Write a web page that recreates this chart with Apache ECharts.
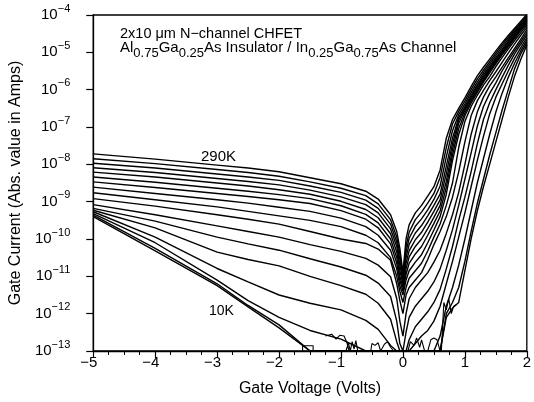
<!DOCTYPE html>
<html><head><meta charset="utf-8">
<script src="https://cdn.jsdelivr.net/npm/echarts@6/dist/echarts.min.js"></script>
<style>html,body{margin:0;padding:0;background:#fff}#c{width:534px;height:402px}</style>
</head><body><div id="c"></div>
<script>
// Gate voltage grid (Volts)
const gateV = [-5,-4,-3,-2.5,-2,-1.5,-1,-0.6,-0.4,-0.2,-0.1,-0.05,0,0.05,0.1,0.2,0.3,0.4,0.5,0.6,0.7,0.8,0.9,1.0,1.1,1.2,1.3,1.4,1.5,1.6,1.7,1.8,1.9,2.0];
// log10 of |gate current| (A), top curve = 290K, bottom = 10K
const c290 = [-7.72,-7.86,-8.02,-8.1,-8.2,-8.36,-8.52,-8.72,-8.93,-9.35,-9.8,-10.25,-10.9,-10.0,-9.62,-9.3,-9.1,-8.85,-8.6,-8.15,-7.3,-6.8,-6.5,-6.22,-5.92,-5.63,-5.4,-5.18,-4.96,-4.75,-4.55,-4.36,-4.17,-3.98];
const c02 = [-7.85,-7.98,-8.14,-8.22,-8.32,-8.47,-8.64,-8.84,-9.06,-9.48,-9.95,-10.4,-11.0,-10.2,-9.82,-9.48,-9.28,-9.04,-8.78,-8.35,-7.55,-6.92,-6.58,-6.3,-6.0,-5.72,-5.48,-5.25,-5.02,-4.8,-4.6,-4.4,-4.21,-4.02];
const c03 = [-7.97,-8.1,-8.26,-8.34,-8.43,-8.58,-8.75,-8.96,-9.18,-9.6,-10.08,-10.55,-11.05,-10.35,-9.98,-9.66,-9.46,-9.22,-8.94,-8.58,-7.8,-7.1,-6.67,-6.38,-6.08,-5.8,-5.55,-5.31,-5.08,-4.86,-4.65,-4.45,-4.25,-4.06];
const c04 = [-8.09,-8.22,-8.38,-8.46,-8.55,-8.69,-8.87,-9.08,-9.3,-9.73,-10.2,-10.7,-11.1,-10.5,-10.15,-9.84,-9.64,-9.38,-9.1,-8.8,-8.05,-7.3,-6.75,-6.45,-6.15,-5.87,-5.61,-5.37,-5.14,-4.92,-4.7,-4.49,-4.29,-4.1];
const c05 = [-8.21,-8.34,-8.5,-8.58,-8.68,-8.8,-8.99,-9.21,-9.43,-9.86,-10.35,-10.85,-11.2,-10.65,-10.32,-10.02,-9.82,-9.55,-9.26,-8.95,-8.25,-7.45,-6.82,-6.5,-6.2,-5.92,-5.66,-5.42,-5.18,-4.96,-4.74,-4.53,-4.33,-4.13];
const c06 = [-8.34,-8.48,-8.64,-8.72,-8.81,-8.92,-9.11,-9.34,-9.57,-10.0,-10.5,-11.0,-11.3,-10.8,-10.48,-10.2,-10.0,-9.72,-9.42,-9.1,-8.45,-7.6,-6.9,-6.55,-6.25,-5.97,-5.71,-5.46,-5.22,-5.0,-4.78,-4.57,-4.36,-4.16];
const c07 = [-8.47,-8.62,-8.78,-8.86,-8.95,-9.05,-9.24,-9.47,-9.7,-10.13,-10.65,-11.1,-11.4,-10.95,-10.65,-10.4,-10.2,-9.9,-9.58,-9.25,-8.62,-7.75,-7.04,-6.62,-6.3,-6.02,-5.76,-5.5,-5.26,-5.03,-4.81,-4.6,-4.39,-4.19];
const c08 = [-8.61,-8.78,-8.95,-9.04,-9.15,-9.26,-9.44,-9.67,-9.9,-10.3,-10.8,-11.25,-11.5,-11.1,-10.85,-10.62,-10.42,-10.1,-9.76,-9.4,-8.8,-7.9,-7.2,-6.7,-6.36,-6.07,-5.8,-5.55,-5.3,-5.07,-4.85,-4.63,-4.42,-4.22];
const c09 = [-8.76,-8.95,-9.14,-9.26,-9.38,-9.5,-9.67,-9.9,-10.1,-10.5,-11.0,-11.4,-11.7,-11.3,-11.05,-10.85,-10.65,-10.32,-9.95,-9.6,-9.1,-8.5,-7.55,-6.85,-6.45,-6.15,-5.88,-5.65,-5.38,-5.14,-4.91,-4.69,-4.48,-4.27];
const c10 = [-8.92,-9.12,-9.35,-9.47,-9.6,-9.8,-10.0,-10.12,-10.27,-10.57,-11.2,-11.65,-12.0,-11.5,-11.3,-11.1,-10.9,-10.55,-10.15,-9.8,-9.4,-8.88,-8.2,-7.4,-6.7,-6.3,-6.02,-5.76,-5.52,-5.27,-5.02,-4.78,-4.55,-4.33];
const c11 = [-9.08,-9.35,-9.65,-9.8,-9.95,-10.15,-10.33,-10.52,-10.7,-11.01,-11.6,-12.2,-12.6,-12.0,-11.6,-11.3,-11.1,-10.9,-10.62,-10.3,-9.85,-9.35,-8.75,-8.0,-7.2,-6.6,-6.2,-5.9,-5.66,-5.4,-5.15,-4.9,-4.65,-4.4];
const c12 = [-9.18,-9.52,-9.95,-10.13,-10.3,-10.53,-10.75,-10.97,-11.18,-11.54,-12.2,-12.8,-13,-12.5,-12.1,-11.8,-11.6,-11.4,-11.15,-10.8,-10.3,-9.75,-9.1,-8.4,-7.7,-6.98,-6.45,-6.1,-5.82,-5.5,-5.23,-4.97,-4.72,-4.47];
const c13 = [-9.23,-9.7,-10.35,-10.55,-10.72,-11.0,-11.25,-11.48,-11.72,-12.15,-12.75,-13,-13,-13,-12.7,-12.35,-12.15,-11.95,-11.7,-11.35,-10.8,-10.2,-9.5,-8.88,-8.2,-7.45,-6.8,-6.35,-6.0,-5.67,-5.35,-5.05,-4.79,-4.54];
const c14 = [-9.27,-9.95,-10.79,-11.15,-11.5,-11.72,-11.9,-12.18,-12.42,-12.85,-13,-13,-13,-13,-13,-12.8,-12.6,-12.45,-12.2,-11.8,-11.2,-10.6,-9.95,-9.3,-8.6,-7.9,-7.25,-6.65,-6.2,-5.85,-5.5,-5.17,-4.88,-4.61];
const c15 = [-9.32,-10.1,-11.1,-11.65,-12.1,-12.45,-12.68,-13,-13,-13,-13,-13,-13,-13,-13,-13,-13,-13,-13,-12.6,-11.8,-11.3,-10.7,-10.0,-9.25,-8.5,-7.85,-7.2,-6.6,-6.1,-5.67,-5.3,-4.97,-4.68];
const c16 = [-9.36,-10.25,-11.2,-11.78,-12.3,-13,-13,-13,-13,-13,-13,-13,-13,-13,-13,-13,-13,-13,-13,-13,-12.0,-11.7,-11.3,-10.6,-9.8,-9.05,-8.4,-7.75,-7.15,-6.55,-6.0,-5.45,-5.05,-4.74];
const c10K = [-9.4,-10.32,-11.25,-11.82,-12.38,-13,-13,-13,-13,-13,-13,-13,-13,-13,-13,-13,-13,-13,-13,-13,-12.1,-11.85,-11.7,-10.85,-10.0,-9.25,-8.6,-8.0,-7.4,-6.8,-6.2,-5.65,-5.2,-4.8];
// noise near the measurement floor: [V, log10 I], null = gap
const floorNoise = [[-1.62,-13],[-1.62,-12.86],[-1.45,-12.86],[-1.45,-13],null,
 [-1.25,-12.6],[-1.15,-12.55],[-1.08,-12.68],[-1.02,-12.58],[-0.95,-12.6],[-0.9,-12.8],[-0.87,-13],null,
 [-0.92,-13],[-0.88,-12.78],[-0.85,-13],[-0.82,-12.75],[-0.79,-12.95],[-0.76,-12.72],[-0.73,-13],null,
 [-0.52,-13],[-0.5,-12.8],[-0.45,-12.85],[-0.4,-12.78],[-0.36,-13],[-0.3,-12.82],[-0.25,-12.75],[-0.2,-12.9],[-0.15,-13],null,
 [0.08,-13],[0.12,-12.75],[0.18,-12.85],[0.22,-12.65],[0.27,-12.9],[0.3,-12.7],[0.35,-13],null,
 [0.4,-13],[0.45,-12.7],[0.5,-12.65],[0.55,-12.7],[0.6,-13],null,
 [0.62,-13],[0.66,-11.7],[0.7,-11.9],[0.74,-11.6],[0.78,-12.0],[0.82,-11.8],[0.87,-11.75]];
const yTicks = [-13,-12,-11,-10,-9,-8,-7,-6,-5,-4];

const curves = [c290,c02,c03,c04,c05,c06,c07,c08,c09,c10,c11,c12,c13,c14,c15,c16,c10K];
const FONT = 'Liberation Sans';
const series = curves.map((c, k) => ({
  type: 'line', name: 'T' + k, showSymbol: false, silent: true, clip: true,
  lineStyle: {color: '#000', width: 1.4},
  data: gateV.map((v, i) => [v, Math.pow(10, c[i])])
}));
series.push({type:'line', name:'noise', showSymbol:false, silent:true, clip:true, connectNulls:false,
  lineStyle:{color:'#000', width:1.1},
  data: floorNoise.map(p => p ? [p[0], Math.pow(10, p[1])] : '-')});

const chart = echarts.init(document.getElementById('c'), null, {renderer: 'canvas'});
chart.setOption({
  animation: false,
  backgroundColor: '#fff',
  grid: {left: 90, right: 4, top: 15, bottom: 47, show: true, borderColor: '#000', borderWidth: 1.3},
  xAxis: {
    type: 'value', min: -5, max: 2, interval: 1,
    axisLine: {show: true, onZero: false, lineStyle: {color: '#000', width: 1.3}},
    axisTick: {show: true, inside: false, length: 7, lineStyle: {color: '#000', width: 1.2}},
    minorTick: {show: true, splitNumber: 4, length: 4, lineStyle: {color: '#000', width: 1}},
    splitLine: {show: false},
    axisLabel: {color: '#000', margin: 4,
      formatter: v => v < 0 ? '{t|\u2212' + (-v) + '}{p|}' : '{t|' + v + '}',
      rich: {t: {fontSize: 15, fontFamily: FONT, color: '#000'}, p: {width: 9}}},
    name: 'Gate Voltage (Volts)', nameLocation: 'middle', nameGap: 30,
    nameTextStyle: {color: '#000', fontSize: 16, fontFamily: FONT}
  },
  yAxis: {
    type: 'log', logBase: 10, min: Math.pow(10, yTicks[0]), max: Math.pow(10, yTicks[yTicks.length-1]), splitNumber: 9,
    axisLine: {show: true, onZero: false, lineStyle: {color: '#000', width: 1.3}},
    axisTick: {show: true, inside: false, length: 7, lineStyle: {color: '#000', width: 1.2}},
    splitLine: {show: false},
    axisLabel: {margin: 23, color: '#000',
      formatter: v => { const e = Math.round(Math.log10(v)); return '{b|10}{s|\u2212' + (-e) + '}'; },
      rich: {b: {fontSize: 15, lineHeight: 24, fontFamily: FONT, color: '#000'},
             s: {fontSize: 11, lineHeight: 14, verticalAlign: 'top', fontFamily: FONT, color: '#000'}}},
    name: 'Gate Current (Abs. value in Amps)', nameLocation: 'middle', nameGap: 64,
    nameTextStyle: {color: '#000', fontSize: 16, fontFamily: FONT}
  },
  graphic: [
    {type: 'text', left: 120, top: 26, silent: true,
     style: {text: '2x10 \u03bcm N\u2212channel CHFET', fill: '#000', font: '14.5px ' + FONT}},
    {type: 'text', left: 120, top: 40, silent: true,
     style: {text: '{m|Al}{u|0.75}{m|Ga}{u|0.25}{m|As Insulator / In}{u|0.25}{m|Ga}{u|0.75}{m|As Channel}',
       rich: {m: {fontSize: 15, lineHeight: 24, fontFamily: FONT, fill: '#000'},
              u: {fontSize: 13, lineHeight: 13, verticalAlign: 'bottom', fontFamily: FONT, fill: '#000'}}}},
    {type: 'text', left: 201, top: 149, silent: true,
     style: {text: '290K', fill: '#000', font: '15px ' + FONT}},
    {type: 'text', left: 209, top: 304, silent: true,
     style: {text: '10K', fill: '#000', font: '14px ' + FONT}}
  ],
  series: series
});
</script></body></html>
